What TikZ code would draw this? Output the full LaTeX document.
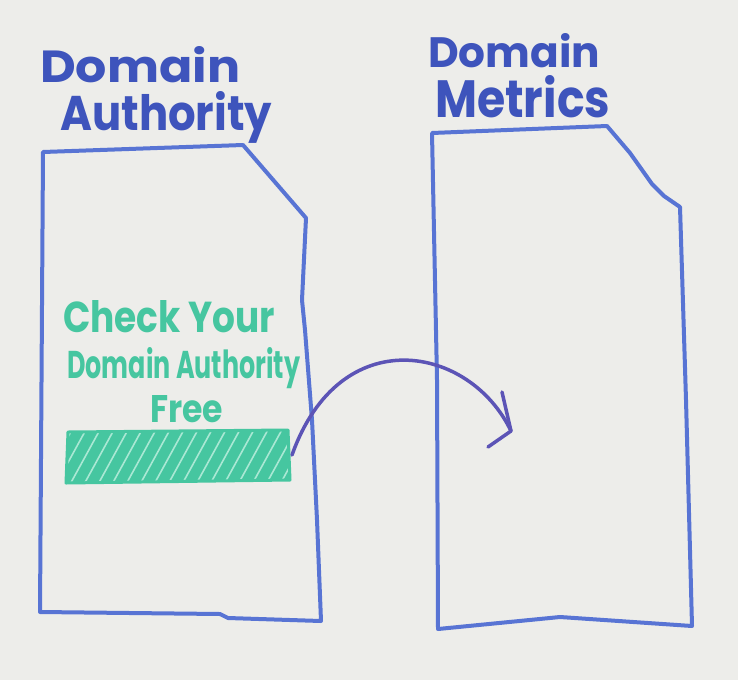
\documentclass[tikz,border=0pt]{standalone}
\usepackage{fontspec}
\setmainfont{Poppins}
\usetikzlibrary{calc}

\definecolor{board}{RGB}{237,237,234}
\definecolor{boxblue}{RGB}{88,116,212}
\definecolor{inkblue}{RGB}{62,84,188}
\definecolor{arrowink}{RGB}{92,84,182}
\definecolor{marker}{RGB}{70,198,160}
\definecolor{markerlight}{RGB}{170,232,212}

\begin{document}
\begin{tikzpicture}[x=1pt,y=-1pt,
  outline/.style={draw=boxblue, line width=4pt, line join=round, line cap=round},
  title/.style={text=inkblue, inner sep=0pt, anchor=base west, font=\bfseries},
  greentext/.style={text=marker, inner sep=0pt, anchor=base west, font=\bfseries},
  arrowline/.style={draw=arrowink, line width=3.5pt, line join=round, line cap=round}]

% whiteboard
\fill[board] (0,0) rectangle (738,680);
\useasboundingbox (0,0) rectangle (738,680);

% headings
\node[title] (t1a) at (40,82)  {\resizebox{200pt}{36pt}{Domain}};
\node[title] (t1b) at (60,130) {\resizebox{212pt}{39pt}{Authority}};
\node[title] (t2a) at (428,67) {\resizebox{172pt}{34pt}{Domain}};
\node[title] (t2b) at (435,117){\resizebox{175pt}{42pt}{Metrics}};

% left page outline
\coordinate (lTL) at (43,152);
\coordinate (lTR) at (243,145);
\coordinate (lFold) at (306,218);
\coordinate (lBR) at (321,621);
\coordinate (lBL) at (40,612);
\draw[outline] (lTL) -- (lTR) -- (lFold) -- (302,300) -- (305,330) -- (312,420)
  -- (317,520) -- (lBR) -- (228,618) -- (220,614) -- (lBL) -- cycle;

% right page outline
\coordinate (rTL) at (432,133);
\coordinate (rTR) at (607,126);
\coordinate (rFold) at (680,207);
\coordinate (rBR) at (692,626);
\coordinate (rBL) at (438,629);
\draw[outline] (rTL) -- (rTR) -- (630,153) -- (652,184) -- (664,196) -- (rFold)
  -- (686,400) -- (rBR) -- (560,617) -- (rBL) -- (437,380) -- cycle;

% green call to action
\node[greentext] (g1) at (63,332)  {\resizebox{212pt}{32pt}{Check Your}};
\node[greentext] (g2) at (67,378)  {\resizebox{233pt}{31pt}{Domain Authority}};
\node[greentext] (g3) at (150,422) {\resizebox{73pt}{27pt}{Free}};

% hatched button
\coordinate (bTL) at (68,432);
\coordinate (bTR) at (288,430);
\coordinate (bBR) at (290,480);
\coordinate (bBL) at (66,483);
\fill[marker] (bTL) -- (bTR) -- (bBR) -- (bBL) -- cycle;
\begin{scope}
  \clip (bTL) -- (bTR) -- (bBR) -- (bBL) -- cycle;
  \foreach \s in {40,54,...,320}
    \draw[markerlight, line width=1.6pt, line cap=round] (\s,488) -- ++(34,-62);
\end{scope}
\draw[marker, line width=3pt, line join=round] (bTL) -- (bTR) -- (bBR) -- (bBL) -- cycle;

% arrow from the button to the metrics page
\coordinate (aStart) at (292,455);
\coordinate (aTip) at (511,431);
\draw[arrowline] (aStart) .. controls (340,320) and (470,345) .. (aTip);
\draw[arrowline] ($(aTip)+(-9,-39)$) -- (aTip) -- ($(aTip)+(-23,16)$);
\end{tikzpicture}
\end{document}
